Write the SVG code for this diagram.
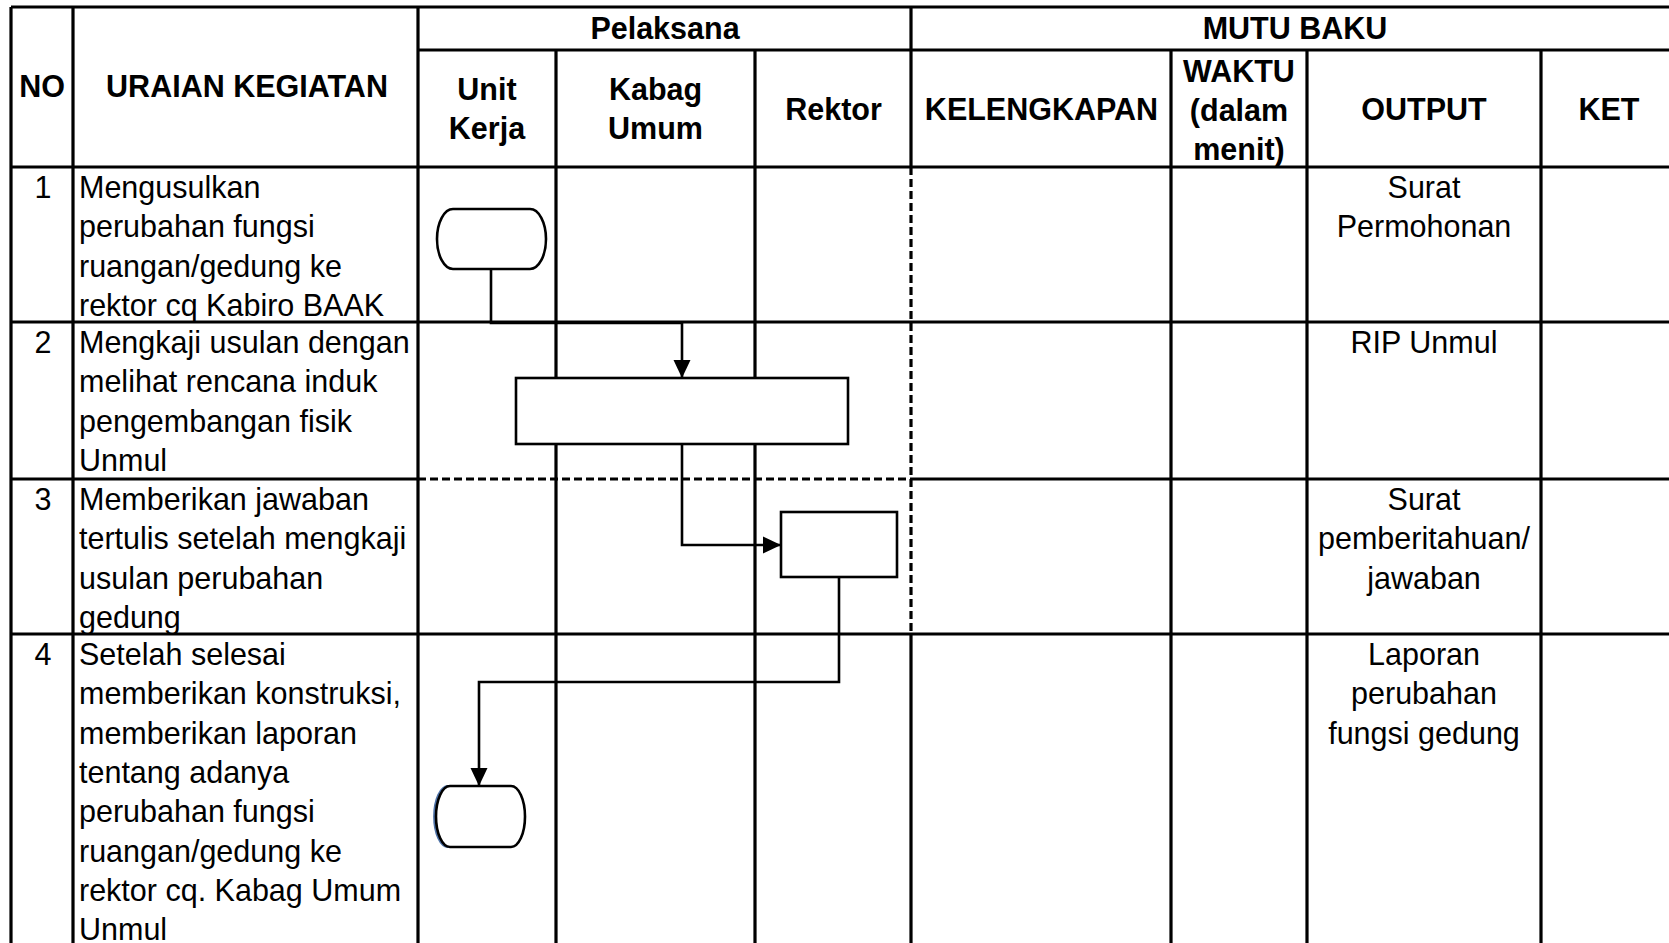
<svg xmlns="http://www.w3.org/2000/svg" width="1669" height="943" viewBox="0 0 1669 943">
<style>
.g{stroke:#000;stroke-width:3.2;fill:none}
.d{stroke:#000;stroke-width:3.2;fill:none;stroke-dasharray:8 4}
.h{font-family:"Liberation Sans",Arial,sans-serif;font-size:30.5px;font-weight:bold;fill:#000;text-anchor:middle}
.t{font-family:"Liberation Sans",Arial,sans-serif;font-size:30.5px;fill:#000}
.c{text-anchor:middle}
.s{fill:#fff;stroke:#000;stroke-width:2.6}
.k{fill:none;stroke:#000;stroke-width:2.6}
</style>
<defs>
<marker id="arr" viewBox="0 0 18 18" refX="18" refY="9" markerWidth="18" markerHeight="18" markerUnits="userSpaceOnUse" orient="auto"><path d="M0,0.5 L18,9 L0,17.5 z" fill="#000"/></marker>
</defs>
<rect width="1669" height="943" fill="#fff"/>
<g id="grid">
<path class="g" d="M11,7 H1669 M418,50 H1669 M11,167 H1669 M11,322 H1669 M11,479 H418 M911,479 H1669 M11,634 H1669"/>
<path class="g" d="M11,7 V943 M73,7 V943 M418,7 V943 M556,50 V943 M755,50 V943 M911,7 V167 M911,634 V943 M1171,50 V943 M1307,50 V943 M1541,50 V943"/>
<path class="d" d="M418,479 H911 M911,167 V634"/>
</g>
<g id="header">
<text class="h" x="42" y="97">NO</text>
<text class="h" x="247" y="97">URAIAN KEGIATAN</text>
<text class="h" x="665" y="39">Pelaksana</text>
<text class="h" x="1295" y="39">MUTU BAKU</text>
<text class="h" x="487" y="100">Unit<tspan x="487" dy="39.3">Kerja</tspan></text>
<text class="h" x="655.5" y="100">Kabag<tspan x="655.5" dy="39.3">Umum</tspan></text>
<text class="h" x="833.5" y="120">Rektor</text>
<text class="h" x="1041.5" y="120">KELENGKAPAN</text>
<text class="h" x="1239" y="81.5">WAKTU<tspan x="1239" dy="39.3">(dalam</tspan><tspan x="1239" dy="39.3">menit)</tspan></text>
<text class="h" x="1424" y="120">OUTPUT</text>
<text class="h" x="1609" y="120">KET</text>
</g>
<g id="row1">
<text class="t c" x="43" y="198">1</text>
<text class="t" x="79" y="198">Mengusulkan<tspan x="79" dy="39.3">perubahan fungsi</tspan><tspan x="79" dy="39.3">ruangan/gedung ke</tspan><tspan x="79" dy="39.3">rektor cq Kabiro BAAK</tspan></text>
<text class="t c" x="1424" y="198">Surat<tspan x="1424" dy="39.3">Permohonan</tspan></text>
</g>
<g id="row2">
<text class="t c" x="43" y="353">2</text>
<text class="t" x="79" y="353">Mengkaji usulan dengan<tspan x="79" dy="39.3">melihat rencana induk</tspan><tspan x="79" dy="39.3">pengembangan fisik</tspan><tspan x="79" dy="39.3">Unmul</tspan></text>
<text class="t c" x="1424" y="353">RIP Unmul</text>
</g>
<g id="row3">
<text class="t c" x="43" y="510">3</text>
<text class="t" x="79" y="510">Memberikan jawaban<tspan x="79" dy="39.3">tertulis setelah mengkaji</tspan><tspan x="79" dy="39.3">usulan perubahan</tspan><tspan x="79" dy="39.3">gedung</tspan></text>
<text class="t c" x="1424" y="510">Surat<tspan x="1424" dy="39.3">pemberitahuan/</tspan><tspan x="1424" dy="39.3">jawaban</tspan></text>
</g>
<g id="row4">
<text class="t c" x="43" y="665">4</text>
<text class="t" x="79" y="665">Setelah selesai<tspan x="79" dy="39.3">memberikan konstruksi,</tspan><tspan x="79" dy="39.3">memberikan laporan</tspan><tspan x="79" dy="39.3">tentang adanya</tspan><tspan x="79" dy="39.3">perubahan fungsi</tspan><tspan x="79" dy="39.3">ruangan/gedung ke</tspan><tspan x="79" dy="39.3">rektor cq. Kabag Umum</tspan><tspan x="79" dy="39.3">Unmul</tspan></text>
<text class="t c" x="1424" y="665">Laporan<tspan x="1424" dy="39.3">perubahan</tspan><tspan x="1424" dy="39.3">fungsi gedung</tspan></text>
</g>
<g id="start">
<path class="s" d="M453,209 H530 A16,30 0 0 1 530,269 H453 A16,30 0 0 1 453,209 Z"/>
</g>
<g id="kaji">
<rect class="s" x="516" y="378" width="332" height="66"/>
</g>
<g id="jawab">
<rect class="s" x="781" y="512" width="116" height="65"/>
</g>
<g id="end">
<path d="M450,786 A14,30.5 0 0 0 450,847" fill="none" stroke="#4f73a8" stroke-width="2.2" transform="translate(-1.8,0)"/>
<path class="s" d="M450,786 H511 A14,30.5 0 0 1 511,847 H450 A14,30.5 0 0 1 450,786 Z"/>
</g>
<g id="connectors">
<path class="k" d="M491,269 V323 H682 V378" marker-end="url(#arr)"/>
<path class="k" d="M682,444 V545 H781" marker-end="url(#arr)"/>
<path class="k" d="M839,577 V682 H479 V786" marker-end="url(#arr)"/>
</g>
</svg>
